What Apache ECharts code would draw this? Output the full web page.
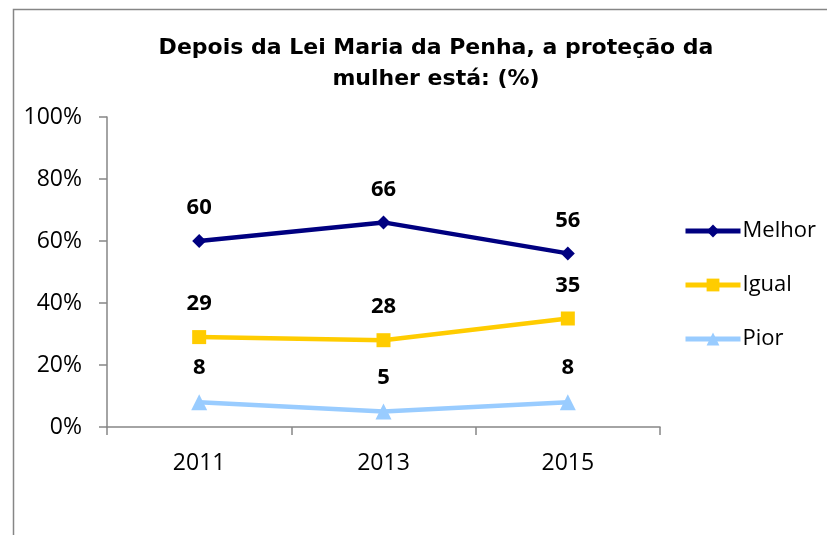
<!DOCTYPE html>
<html>
<head>
<meta charset="utf-8">
<script src="https://cdn.jsdelivr.net/npm/echarts@6/dist/echarts.min.js"></script>
<style>
  html, body { margin: 0; padding: 0; background: #fff; }
  #chart { width: 827px; height: 535px; }
</style>
</head>
<body>
<div id="chart"></div>
<script>
const years = ['2011', '2013', '2015']
const melhor = [60, 66, 56]
const igual = [29, 28, 35]
const pior = [8, 5, 8]
const yTicks = [0, 20, 40, 60, 80, 100]

const chart = echarts.init(document.getElementById('chart'))

const labelStyle = {
  show: true,
  position: 'top',
  distance: 15,
  color: '#000',
  fontWeight: 'bold',
  fontSize: 22,
  fontFamily: 'Open Sans'
}

function line(name, data, color, symbol, size) {
  return {
    name,
    type: 'line',
    data,
    symbol,
    symbolSize: size,
    showSymbol: true,
    lineStyle: { color, width: 4.5 },
    itemStyle: { color },
    label: labelStyle,
    animation: false
  }
}

chart.setOption({
  backgroundColor: '#fff',
  animation: false,
  graphic: [{
    type: 'rect',
    shape: { x: 13.5, y: 9.5, width: 900, height: 700 },
    style: { fill: 'none', stroke: '#868686', lineWidth: 1.5 },
    silent: true
  }],
  title: {
    text: 'Depois da Lei Maria da Penha, a proteção da\nmulher está: (%)',
    left: 431,
    textAlign: 'center',
    top: 28,
    textStyle: {
      fontFamily: 'DejaVu Sans',
      fontWeight: 'bold',
      fontSize: 22,
      lineHeight: 31,
      color: '#000'
    }
  },
  legend: {
    orient: 'vertical',
    left: 678,
    top: 215,
    itemWidth: 55,
    itemHeight: 16,
    itemGap: 32,
    lineStyle: { width: 5 },
    textStyle: { fontFamily: 'Open Sans', fontSize: 22, color: '#000', padding: [0, 0, 0, -3] },
    data: ['Melhor', 'Igual', 'Pior']
  },
  grid: { left: 107, right: 167, top: 117, bottom: 108 },
  xAxis: {
    type: 'category',
    data: years,
    boundaryGap: true,
    axisLine: { lineStyle: { color: '#868686', width: 1.5 } },
    axisTick: { show: true, length: 8, lineStyle: { color: '#868686', width: 1.5 } },
    axisLabel: { color: '#000', fontFamily: 'Open Sans', fontSize: 23, margin: 25 }
  },
  yAxis: {
    type: 'value',
    min: yTicks[0],
    max: yTicks[yTicks.length - 1],
    interval: 20,
    splitLine: { show: false },
    axisLine: { show: true, lineStyle: { color: '#868686', width: 1.5 } },
    axisTick: { show: true, length: 8, lineStyle: { color: '#868686', width: 1.5 } },
    axisLabel: {
      color: '#000', fontFamily: 'Open Sans', fontSize: 23, margin: 25,
      formatter: '{value}%'
    }
  },
  series: [
    line('Melhor', melhor, '#000080', 'diamond', 14),
    line('Igual', igual, '#FFCC00', 'rect', 14),
    line('Pior', pior, '#99CCFF', 'triangle', 16)
  ]
})
</script>
</body>
</html>
